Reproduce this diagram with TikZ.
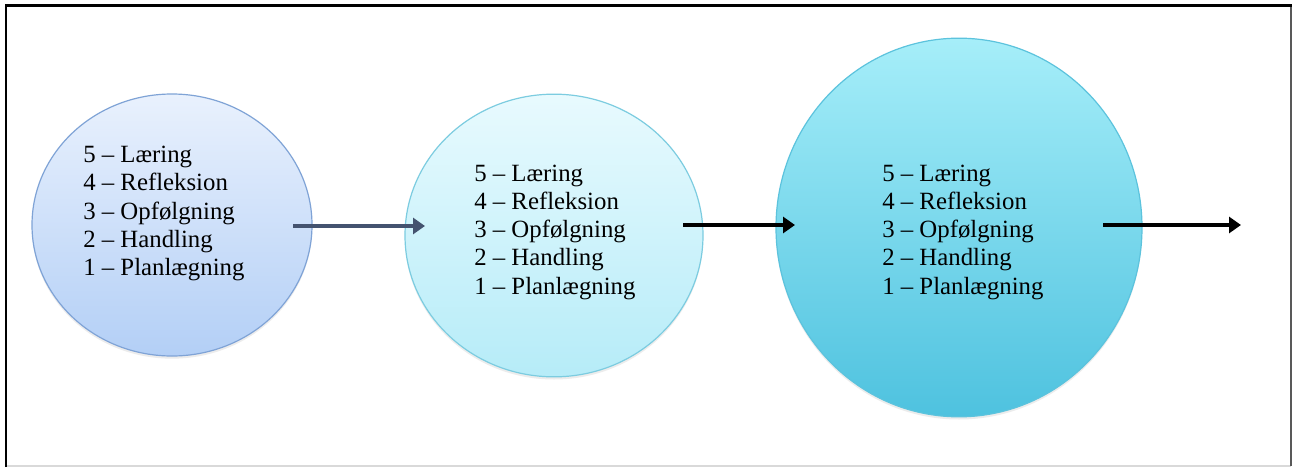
\documentclass[tikz,border=0pt]{standalone}
\usepackage{fontspec}
\setmainfont{Liberation Serif}
\usetikzlibrary{arrows.meta,shadows,shapes.geometric}
\definecolor{fa}{HTML}{E9F1FD}
\definecolor{fb}{HTML}{B3CFF6}
\definecolor{ea}{HTML}{7FA3D6}
\definecolor{ga}{HTML}{E8FAFE}
\definecolor{gb}{HTML}{B6ECF8}
\definecolor{eb}{HTML}{7CCCE0}
\definecolor{ha}{HTML}{A6EEF9}
\definecolor{hb}{HTML}{4EC2DF}
\definecolor{ec}{HTML}{5CC3DD}
\definecolor{slate}{HTML}{44536F}
\tikzset{
  bubble/.style={ellipse, draw, line width=0.9pt, inner sep=0pt,
    drop shadow={opacity=0.15,shadow xshift=0pt,shadow yshift=-2pt}},
  steps/.style={align=left, anchor=west, inner sep=0pt,
    font=\fontsize{18.6}{21.2}\selectfont},
  flow/.style={line width=2.4pt, -{Triangle[length=9pt,width=12pt]}},
}
\begin{document}
\begin{tikzpicture}[x=0.75pt,y=-0.75pt]
\useasboundingbox (0,0) rectangle (1293,468);
\fill[white] (0,0) rectangle (1293,468);
% frame
\draw[black!15, line width=1.2pt] (6,466) -- (1291,466);
\draw[black!65, line width=1.5pt] (1291,5.5) -- (1291,466);
\draw[black, line width=2.2pt] (6,467) -- (6,5.5) -- (1292,5.5);
% circles
\node[bubble, draw=ea, top color=fa, bottom color=fb, minimum width=210pt, minimum height=196.5pt] (c1) at (172,225) {};
\node[bubble, draw=eb, top color=ga, bottom color=gb, minimum width=223.5pt, minimum height=212pt] (c2) at (554,235.5) {};
\node[bubble, draw=ec, top color=ha, bottom color=hb, minimum width=274.5pt, minimum height=284pt] (c3) at (959,227.5) {};
% texts
\node[steps] (t1) at (83,213.5) {5 – Læring\\4 – Refleksion\\3 – Opfølgning\\2 – Handling\\1 – Planlægning};
\node[steps] (t2) at (474,232) {5 – Læring\\4 – Refleksion\\3 – Opfølgning\\2 – Handling\\1 – Planlægning};
\node[steps] (t3) at (882,232) {5 – Læring\\4 – Refleksion\\3 – Opfølgning\\2 – Handling\\1 – Planlægning};
% arrows
\coordinate (a1s) at (293,226);
\coordinate (a1e) at (425,226);
\coordinate (a2s) at (683,225);
\coordinate (a2e) at (795,225);
\coordinate (a3s) at (1103,225);
\coordinate (a3e) at (1241,225);
\draw[flow, slate] (a1s) -- (a1e);
\draw[flow, black] (a2s) -- (a2e);
\draw[flow, black] (a3s) -- (a3e);
\end{tikzpicture}
\end{document}
